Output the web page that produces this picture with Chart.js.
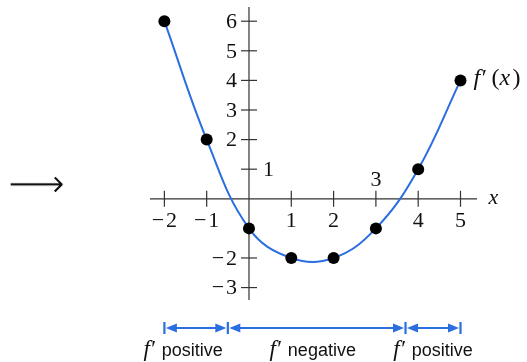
<!DOCTYPE html>
<html>
<head>
<meta charset="utf-8">
<script src="https://cdn.jsdelivr.net/npm/chart.js@4"></script>
<style>
  html, body { margin: 0; padding: 0; background: #fff; }
  #wrap { width: 527px; height: 362px; }
</style>
</head>
<body>
<div id="wrap"><canvas id="c" width="527" height="362"></canvas></div>
<script>
// sample points of f'(x)
const xs = [-2, -1, 0, 1, 2, 3, 4, 5];
const ys = [6, 2, -1, -2, -2, -1, 1, 4];

// axis ticks
const xTicks = [-2, -1, 1, 2, 3, 4, 5];
const yTicks = [-3, -2, 1, 2, 3, 4, 5, 6];

// sign intervals of f' shown under the axis
const bounds = [-2, -0.5, 3.7, 5];
const signLabels = ["positive", "negative", "positive"];

const BLUE = "#2a6ee0";
const AX = "#333";
const serif = "'Liberation Serif', 'DejaVu Serif', serif";
const sans = "'Liberation Sans', Arial, sans-serif";

const minus = v => (v < 0 ? "\u2212\u200A" + Math.abs(v) : String(v));

const axesPlugin = {
  id: "axes",
  beforeDatasetsDraw(chart) {
    const { ctx, scales: { x, y } } = chart;
    const x0 = x.getPixelForValue(0), y0 = y.getPixelForValue(0);
    ctx.save();
    ctx.strokeStyle = AX;
    ctx.lineWidth = 1.2;
    ctx.beginPath();
    ctx.moveTo(chart.chartArea.left, y0); ctx.lineTo(chart.chartArea.right, y0);
    ctx.moveTo(x0, chart.chartArea.top); ctx.lineTo(x0, chart.chartArea.bottom);
    ctx.stroke();

    ctx.fillStyle = "#111";
    ctx.font = "22px " + serif;
    ctx.textBaseline = "middle";
    xTicks.forEach(v => {
      const px = x.getPixelForValue(v);
      ctx.beginPath(); ctx.moveTo(px, y0 - 8); ctx.lineTo(px, y0 + 8); ctx.stroke();
      ctx.textAlign = "center";
      // the 3 sits above the axis, clear of the point below it
      ctx.fillText(minus(v), px, v === 3 ? y0 - 19 : y0 + 22);
    });
    yTicks.forEach(v => {
      const py = y.getPixelForValue(v);
      ctx.beginPath(); ctx.moveTo(x0 - 8, py); ctx.lineTo(x0 + 8, py); ctx.stroke();
      if (v === 1) {
        ctx.textAlign = "left";
        ctx.fillText("1", x0 + 14, py + 1);
      } else {
        ctx.textAlign = "right";
        ctx.fillText(minus(v), x0 - 12, py + 1);
      }
    });

    ctx.font = "italic 22px " + serif;
    ctx.textAlign = "left";
    ctx.fillText("x", x.getPixelForValue(5) + 28, y0 - 1);
    ctx.restore();
  },
  afterDatasetsDraw(chart) {
    const { ctx, scales: { x, y } } = chart;
    ctx.save();
    ctx.fillStyle = "#111";
    ctx.textBaseline = "middle";
    ctx.textAlign = "left";

    // series label f'(x): italic f and x, upright brackets
    const lx = x.getPixelForValue(5) + 13, ly = y.getPixelForValue(4) - 2;
    ctx.font = "italic 24px " + serif;
    ctx.fillText("f\u2032", lx, ly);
    ctx.font = "24px " + serif;
    ctx.fillText("(", lx + 18, ly);
    ctx.font = "italic 24px " + serif;
    ctx.fillText("x", lx + 26, ly);
    ctx.font = "24px " + serif;
    ctx.fillText(")", lx + 39, ly);

    // arrow on the left, thinned with a white outline
    ctx.font = "40px 'DejaVu Sans', sans-serif";
    ctx.fillText("\u27F6", 8, 187);
    ctx.strokeStyle = "#fff";
    ctx.lineWidth = 1.1;
    ctx.strokeText("\u27F6", 8, 187);

    // interval arrows
    const ay = 328;
    ctx.strokeStyle = BLUE;
    ctx.lineWidth = 2.2;
    const head = (px, dir) => {
      ctx.beginPath();
      ctx.moveTo(px, ay);
      ctx.lineTo(px - dir * 11, ay - 4.5);
      ctx.lineTo(px - dir * 11, ay + 4.5);
      ctx.closePath();
      ctx.fill();
    };
    bounds.forEach(b => {
      const px = x.getPixelForValue(b);
      ctx.beginPath(); ctx.moveTo(px, ay - 6); ctx.lineTo(px, ay + 6); ctx.stroke();
    });
    // label centres sit a little off the interval middles
    const shift = [-13, -4, 0];
    for (let i = 0; i < bounds.length - 1; i++) {
      const a = x.getPixelForValue(bounds[i]) + 1.5;
      const b = x.getPixelForValue(bounds[i + 1]) - 1.5;
      ctx.fillStyle = BLUE;
      ctx.beginPath(); ctx.moveTo(a + 6, ay); ctx.lineTo(b - 6, ay); ctx.stroke();
      head(a, -1);
      head(b, 1);

      const mid = (x.getPixelForValue(bounds[i]) + x.getPixelForValue(bounds[i + 1])) / 2 + shift[i];
      ctx.fillStyle = "#111";
      ctx.font = "italic 23px " + serif;
      const fw = ctx.measureText("f\u2032").width;
      ctx.font = "18px " + sans;
      const tw = ctx.measureText(signLabels[i]).width;
      const gap = 7;
      const start = mid - (fw + gap + tw) / 2;
      ctx.textBaseline = "alphabetic";
      ctx.font = "italic 23px " + serif;
      ctx.fillText("f\u2032", start, 356);
      ctx.font = "18px " + sans;
      ctx.fillText(signLabels[i], start + fw + gap, 356);
    }
    ctx.restore();
  }
};

new Chart(document.getElementById("c"), {
  type: "line",
  data: {
    datasets: [{
      data: xs.map((v, i) => ({ x: v, y: ys[i] })),
      borderColor: BLUE,
      borderWidth: 2,
      tension: 0.4,
      pointRadius: 6,
      pointBackgroundColor: "#000",
      pointBorderColor: "#000",
      pointBorderWidth: 0,
      clip: false
    }]
  },
  options: {
    responsive: false,
    animation: false,
    layout: { padding: { left: 150, right: 50, top: 7, bottom: 62 } },
    plugins: { legend: { display: false }, tooltip: { enabled: false } },
    scales: {
      x: { type: "linear", display: false, min: -2.34, max: 5.39 },
      y: { type: "linear", display: false, min: -3.42, max: 6.48 }
    }
  },
  plugins: [axesPlugin]
});
</script>
</body>
</html>
